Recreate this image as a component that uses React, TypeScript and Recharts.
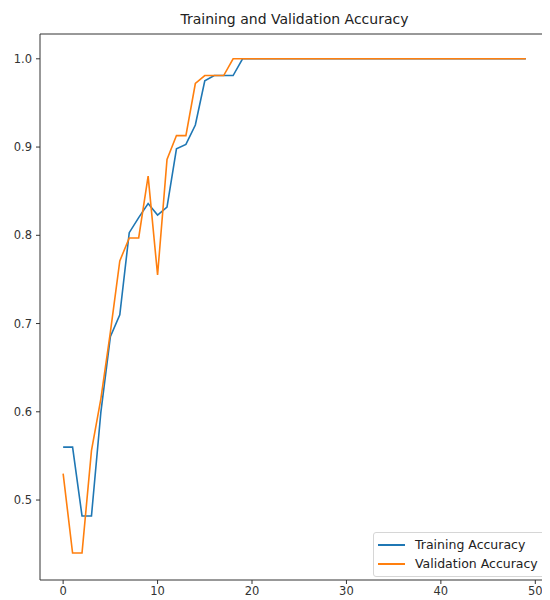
import React from "react";
import { LineChart, Line, XAxis, YAxis, ReferenceLine } from "recharts";

const epochs = [
  0, 1, 2, 3, 4, 5, 6, 7, 8, 9, 10, 11, 12, 13, 14, 15, 16, 17, 18, 19, 20, 21, 22, 23, 24,
  25, 26, 27, 28, 29, 30, 31, 32, 33, 34, 35, 36, 37, 38, 39, 40, 41, 42, 43, 44, 45, 46, 47, 48, 49,
];

const trainingAccuracy = [
  0.56, 0.56, 0.482, 0.482, 0.6, 0.685, 0.71, 0.803, 0.82, 0.836, 0.823, 0.832, 0.898, 0.903,
  0.925, 0.975, 0.981, 0.981, 0.981, 1.0, 1.0, 1.0, 1.0, 1.0, 1.0, 1.0, 1.0, 1.0, 1.0, 1.0, 1.0,
  1.0, 1.0, 1.0, 1.0, 1.0, 1.0, 1.0, 1.0, 1.0, 1.0, 1.0, 1.0, 1.0, 1.0, 1.0, 1.0, 1.0, 1.0, 1.0,
];

const validationAccuracy = [
  0.53, 0.44, 0.44, 0.556, 0.615, 0.69, 0.771, 0.797, 0.797, 0.867, 0.755, 0.886, 0.913, 0.913,
  0.972, 0.981, 0.981, 0.981, 1.0, 1.0, 1.0, 1.0, 1.0, 1.0, 1.0, 1.0, 1.0, 1.0, 1.0, 1.0, 1.0,
  1.0, 1.0, 1.0, 1.0, 1.0, 1.0, 1.0, 1.0, 1.0, 1.0, 1.0, 1.0, 1.0, 1.0, 1.0, 1.0, 1.0, 1.0, 1.0,
];

const xTicks = [0, 10, 20, 30, 40, 50];
const yTicks = [0.5, 0.6, 0.7, 0.8, 0.9, 1.0];
const xDomain = [-2.45, 51.45];
const yDomain = [0.4094, 1.0281];

const series = [
  { key: "train", name: "Training Accuracy", color: "#1f77b4" },
  { key: "val", name: "Validation Accuracy", color: "#ff7f0e" },
];

const data = epochs.map((e, i) => ({
  epoch: e,
  train: trainingAccuracy[i],
  val: validationAccuracy[i],
}));

const FONT = "'DejaVu Sans', sans-serif";
const AXIS = "#333";
const tickStyle = { fontSize: 11.5, fill: "#333", fontFamily: FONT };

export default function App() {
  return (
    <div style={{ position: "relative", width: 542, height: 592, fontFamily: FONT }}>
      <div
        style={{
          position: "absolute",
          left: 32,
          width: 509,
          top: 3,
          textAlign: "center",
          fontSize: 14,
          color: "#222",
          lineHeight: "17px",
        }}
      >
        Training and Validation Accuracy
      </div>
      <LineChart
        width={542}
        height={592}
        data={data}
        margin={{ top: 26, right: 1, bottom: 0, left: 0 }}
      >
        <XAxis
          xAxisId="x"
          dataKey="epoch"
          type="number"
          domain={xDomain}
          ticks={xTicks}
          interval={0}
          allowDataOverflow
          height={20}
          tick={tickStyle}
          tickSize={4}
          tickMargin={3}
          tickLine={{ stroke: AXIS }}
          axisLine={{ stroke: AXIS }}
        />
        <YAxis
          yAxisId="y"
          type="number"
          domain={yDomain}
          ticks={yTicks}
          interval={0}
          allowDataOverflow
          width={32}
          tick={tickStyle}
          tickSize={4}
          tickMargin={4}
          tickLine={{ stroke: AXIS }}
          axisLine={{ stroke: AXIS }}
          tickFormatter={(v: number) => v.toFixed(1)}
        />
        <ReferenceLine xAxisId="x" yAxisId="y" y={yDomain[1]} stroke={AXIS} />
        <ReferenceLine xAxisId="x" yAxisId="y" x={xDomain[1]} stroke={AXIS} />
        {series.map((s) => (
          <Line
            key={s.key}
            xAxisId="x"
            yAxisId="y"
            type="linear"
            dataKey={s.key}
            name={s.name}
            stroke={s.color}
            strokeWidth={1.6}
            dot={false}
            activeDot={false}
            isAnimationActive={false}
          />
        ))}
      </LineChart>
      <div
        style={{
          position: "absolute",
          left: 365,
          top: 524,
          width: 175,
          height: 45,
          border: "1px solid #d6d6d6",
          borderRadius: 3,
          background: "rgba(255,255,255,0.8)",
          boxSizing: "border-box",
          padding: "2px 0 0 4px",
        }}
      >
        {series.map((s) => (
          <div
            key={s.key}
            style={{ display: "flex", alignItems: "center", height: 19, fontSize: 12.5, color: "#222" }}
          >
            <span
              style={{
                display: "inline-block",
                width: 27,
                height: 0,
                borderTop: `2px solid ${s.color}`,
                marginRight: 10,
              }}
            />
            <span>{s.name}</span>
          </div>
        ))}
      </div>
    </div>
  );
}
